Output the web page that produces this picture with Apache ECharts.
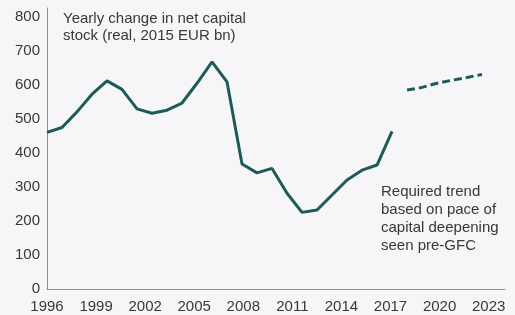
<!DOCTYPE html>
<html>
<head>
<meta charset="utf-8">
<script src="https://cdn.jsdelivr.net/npm/echarts@6/dist/echarts.min.js"></script>
<style>
  html, body { margin: 0; padding: 0; background: #f6f5f8; }
  #chart { width: 515px; height: 315px; }
</style>
</head>
<body>
<div id="chart"></div>
<script>
// yearly change in net capital stock (real, 2015 EUR bn)
const years = [1996, 1997, 1998, 1999, 2000, 2001, 2002, 2003, 2004, 2005, 2006, 2007,
  2008, 2009, 2010, 2011, 2012, 2013, 2014, 2015, 2016, 2017, 2018, 2019];
const actual = [460, 474, 520, 572, 611, 586, 529, 516, 525, 546, 604, 667,
  608, 367, 341, 354, 281, 225, 232, 276, 320, 349, 364, 463];

// required trend (pre-GFC pace of capital deepening)
const trendYears = [2020, 2021, 2022, 2023, 2024, 2025];
const trend = [584, 592, 604, 613, 621, 630];

const xTickLabels = [1996, 1999, 2002, 2005, 2008, 2011, 2014, 2017, 2020, 2023];
const yTickLabels = [0, 100, 200, 300, 400, 500, 600, 700, 800];

const titleLines = ["Yearly change in net capital", "stock (real, 2015 EUR bn)"];
const noteLines = ["Required trend", "based on pace of", "capital deepening", "seen pre-GFC"];

const lineColor = "#1d5b5a";
const textColor = "#383838";
const fontFamily = "'Liberation Sans', Arial, sans-serif";

const chart = echarts.init(document.getElementById("chart"), null, { renderer: "canvas" });

const pair = (xs, ys) => xs.map((x, i) => [x, ys[i]]);

const textBlock = (lines, left, top, lineHeight) => lines.map((t, i) => ({
  type: "text",
  left: left,
  top: top + i * lineHeight,
  style: { text: t, fontSize: 15, fontFamily: fontFamily, fill: textColor }
}));

chart.setOption({
  animation: false,
  backgroundColor: "#f6f5f8",
  grid: { left: 47, right: 10, top: 8, bottom: 26 },
  xAxis: [
    {
      type: "value",
      min: 1996,
      max: 2024,
      interval: 3,
      axisLine: { show: true, lineStyle: { color: "#8e8e8e", width: 1 } },
      axisTick: { show: false },
      splitLine: { show: false },
      axisLabel: {
        color: textColor,
        fontSize: 15,
        fontFamily: fontFamily,
        margin: 10,
        formatter: (v) => xTickLabels.includes(v) ? String(v) : ""
      }
    },
    {
      type: "value",
      min: 1996,
      max: 2026.53,
      show: false
    }
  ],
  yAxis: {
    type: "value",
    min: 0,
    max: 825,
    interval: 100,
    axisLine: { show: true, lineStyle: { color: "#8e8e8e", width: 1 } },
    axisTick: { show: false },
    splitLine: { show: false },
    axisLabel: {
      color: textColor,
      fontSize: 15,
      fontFamily: fontFamily,
      margin: 7,
      formatter: (v) => yTickLabels.includes(v) ? String(v) : ""
    }
  },
  graphic: [
    ...textBlock(titleLines, 63, 11, 17),
    ...textBlock(noteLines, 381, 184, 18)
  ],
  series: [
    {
      name: "Net capital stock change",
      type: "line",
      xAxisIndex: 1,
      data: pair(years, actual),
      showSymbol: false,
      lineStyle: { color: lineColor, width: 3 }
    },
    {
      name: "Required trend",
      type: "line",
      xAxisIndex: 1,
      data: pair(trendYears, trend),
      showSymbol: false,
      lineStyle: { color: lineColor, width: 3, type: [8, 4] }
    }
  ]
});
</script>
</body>
</html>
